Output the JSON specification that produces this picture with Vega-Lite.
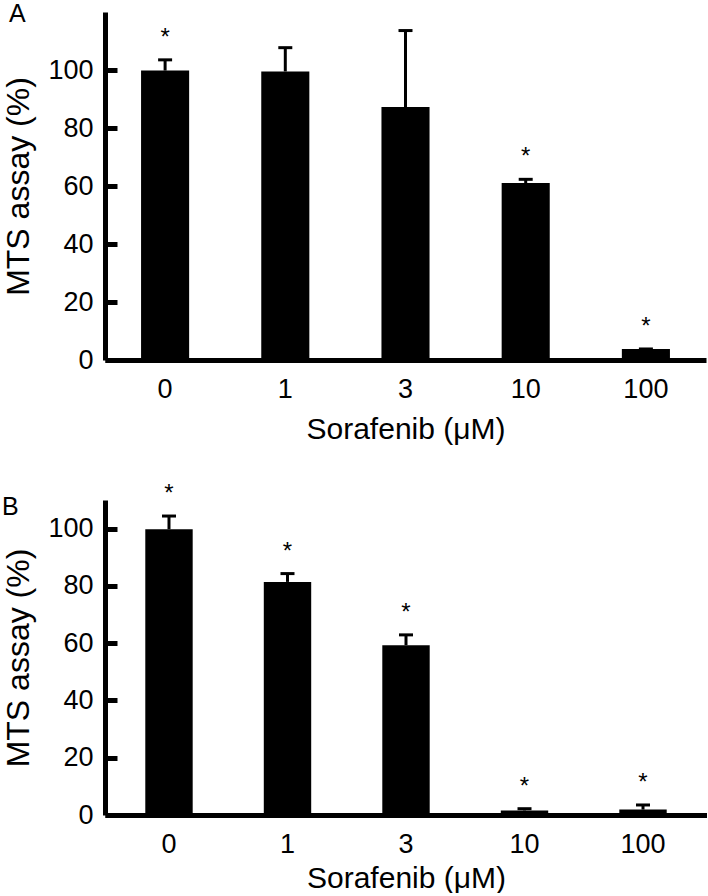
{
  "$schema": "https://vega.github.io/schema/vega-lite/v6.json",
  "padding": {"left": 1, "top": 2, "right": 0, "bottom": 0},
  "background": "white",
  "config": {
    "view": {"stroke": null},
    "font": "Liberation Sans",
    "concat": {"spacing": 38},
    "axis": {"domainColor": "black", "domainWidth": 5, "grid": false, "titleFontWeight": "normal"},
    "title": {"fontSize": 25, "fontWeight": "normal", "color": "black", "anchor": "start", "frame": "bounds"}
  },
  "datasets": {
    "A": [
      {"dose": "0", "value": 99.8, "hi": 103.5, "star": true},
      {"dose": "1", "value": 99.5, "hi": 107.7, "star": false},
      {"dose": "3", "value": 87.2, "hi": 113.6, "star": false},
      {"dose": "10", "value": 61.0, "hi": 62.3, "star": true},
      {"dose": "100", "value": 3.8, "hi": 3.8, "star": true}
    ],
    "B": [
      {"dose": "0", "value": 99.8, "hi": 104.4, "star": true},
      {"dose": "1", "value": 81.4, "hi": 84.3, "star": true},
      {"dose": "3", "value": 59.3, "hi": 62.9, "star": true},
      {"dose": "10", "value": 1.6, "hi": 2.2, "star": true},
      {"dose": "100", "value": 1.9, "hi": 3.5, "star": true}
    ]
  },
  "vconcat": [
    {
      "title": {"text": "A", "dx": 6, "dy": 15, "offset": 0},
      "width": 601,
      "height": 348,
      "data": {"name": "A"},
      "encoding": {
        "x": {"field": "dose", "type": "ordinal", "sort": ["0", "1", "3", "10", "100"],
              "scale": {"paddingInner": 0.6, "paddingOuter": 0.3},
              "axis": {"labelAngle": 0, "ticks": false, "labelFontSize": 27, "labelPadding": 16, "titleFontSize": 30, "titlePadding": 12},
              "title": "Sorafenib (μM)"}
      },
      "resolve": {"axis": {"y": "independent"}},
      "layer": [
        {"mark": {"type": "bar", "color": "black"},
         "encoding": {"y": {"field": "value", "type": "quantitative", "scale": {"domain": [0, 120]},
                            "axis": {"values": [0, 20, 40, 60, 80, 100], "ticks": false,
                                     "labelFontSize": 27, "labelPadding": 12, "titleFontSize": 32, "titlePadding": 12},
                            "title": "MTS assay (%)"}}},
        {"mark": {"type": "tick", "color": "black", "opacity": 1, "thickness": 3, "size": 14},
         "encoding": {"y": {"field": "hi", "type": "quantitative",
                            "axis": {"orient": "left", "offset": -12, "domain": false, "labels": false, "ticks": true, "tickColor": "black",
                                     "tickSize": 12, "tickWidth": 5, "values": [0, 20, 40, 60, 80, 100], "title": null}}}},
        {"transform": [{"filter": "datum.hi > datum.value"}],
         "mark": {"type": "rule", "color": "black", "strokeWidth": 3},
         "encoding": {"y": {"field": "value", "type": "quantitative", "axis": null}, "y2": {"field": "hi"}}},
        {"transform": [{"filter": "datum.star"}],
         "mark": {"type": "text", "text": "*", "fontSize": 24, "dy": -15, "baseline": "alphabetic", "color": "black"},
         "encoding": {"y": {"field": "hi", "type": "quantitative", "axis": null}}}
      ]
    },
    {
      "title": {"text": "B", "dx": -1, "dy": 38, "offset": 0},
      "width": 602,
      "height": 315,
      "data": {"name": "B"},
      "encoding": {
        "x": {"field": "dose", "type": "ordinal", "sort": ["0", "1", "3", "10", "100"],
              "scale": {"paddingInner": 0.6, "paddingOuter": 0.34},
              "axis": {"labelAngle": 0, "ticks": false, "labelFontSize": 27, "labelPadding": 16, "titleFontSize": 30, "titlePadding": 6},
              "title": "Sorafenib (μM)"}
      },
      "resolve": {"axis": {"y": "independent"}},
      "layer": [
        {"mark": {"type": "bar", "color": "black"},
         "encoding": {"y": {"field": "value", "type": "quantitative", "scale": {"domain": [0, 110]},
                            "axis": {"values": [0, 20, 40, 60, 80, 100], "ticks": false,
                                     "labelFontSize": 27, "labelPadding": 12, "titleFontSize": 32, "titlePadding": 12},
                            "title": "MTS assay (%)"}}},
        {"mark": {"type": "tick", "color": "black", "opacity": 1, "thickness": 3, "size": 14},
         "encoding": {"y": {"field": "hi", "type": "quantitative",
                            "axis": {"orient": "left", "offset": -12, "domain": false, "labels": false, "ticks": true, "tickColor": "black",
                                     "tickSize": 12, "tickWidth": 5, "values": [0, 20, 40, 60, 80, 100], "title": null}}}},
        {"mark": {"type": "rule", "color": "black", "strokeWidth": 3},
         "encoding": {"y": {"field": "value", "type": "quantitative", "axis": null}, "y2": {"field": "hi"}}},
        {"transform": [{"filter": "datum.star"}],
         "mark": {"type": "text", "text": "*", "fontSize": 24, "dy": -15, "baseline": "alphabetic", "color": "black"},
         "encoding": {"y": {"field": "hi", "type": "quantitative", "axis": null}}}
      ]
    }
  ]
}
